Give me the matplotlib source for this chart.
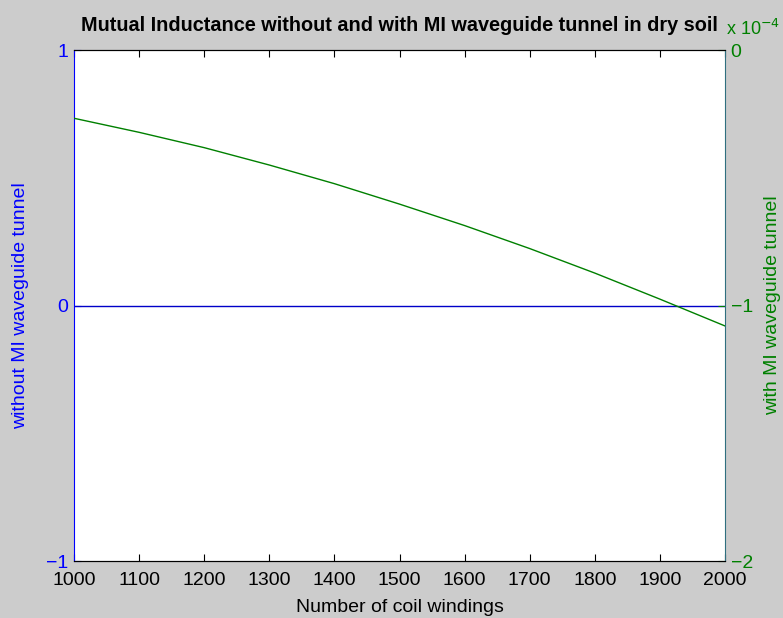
import matplotlib.pyplot as plt

plt.rcParams['font.family'] = ['Liberation Sans', 'DejaVu Sans']

windings = [1000, 1100, 1200, 1300, 1400, 1500, 1600, 1700, 1800, 1900, 2000]
# without tunnel: zero everywhere
mi_without = [0, 0, 0, 0, 0, 0, 0, 0, 0, 0, 0]
# with tunnel, in units of 1e-4
mi_with = [-0.267, -0.322, -0.382, -0.450, -0.523, -0.603, -0.687, -0.777, -0.873, -0.975, -1.080]

xticks = [1000, 1100, 1200, 1300, 1400, 1500, 1600, 1700, 1800, 1900, 2000]

blue = '#0000ff'
green = '#008000'
bg = '#cccccc'
fs = 14

fig = plt.figure(figsize=(7.83, 6.18), dpi=100, facecolor=bg)
ax1 = fig.add_axes([0.0945, 0.0922, 0.8315, 0.8268])
ax2 = ax1.twinx()

ax1.plot(windings, mi_without, color='#0000c8', lw=1)
ax2.plot(windings, mi_with, color=green, lw=1)

ax1.set_xlim(1000, 2000)
ax1.set_ylim(-1, 1)
ax2.set_ylim(-2, 0)
ax1.set_xticks(xticks)
ax1.set_yticks([-1, 0, 1])
ax2.set_yticks([-2, -1, 0])

ax1.tick_params(axis='x', direction='in', top=True, length=5, labelsize=fs, pad=8)
ax1.tick_params(axis='y', direction='in', colors=blue, length=5, labelsize=fs, pad=4)
ax2.tick_params(axis='y', direction='in', colors=green, length=5, labelsize=fs, pad=4)

for ax in (ax1, ax2):
    ax.spines['top'].set_color('black')
    ax.spines['bottom'].set_color('black')
ax1.spines['left'].set_color(blue)
ax1.spines['right'].set_visible(False)
ax2.spines['left'].set_visible(False)
ax2.spines['right'].set_color('#2f6f7f')

ax1.set_xlabel('Number of coil windings', fontsize=fs, labelpad=7)
ax1.set_ylabel('without MI waveguide tunnel', color=blue, fontsize=fs, labelpad=12)
ax2.set_ylabel('with MI waveguide tunnel', color=green, fontsize=fs, labelpad=8)
ax1.set_title('Mutual Inductance without and with MI waveguide tunnel in dry soil',
              fontsize=14.3, fontweight='bold', pad=14)
ax2.text(1.002, 1.022, r'x 10$^{-4}$', transform=ax2.transAxes, color=green,
         fontsize=13, ha='left', va='bottom')

fig.savefig('out.png', dpi=100, facecolor=bg)
